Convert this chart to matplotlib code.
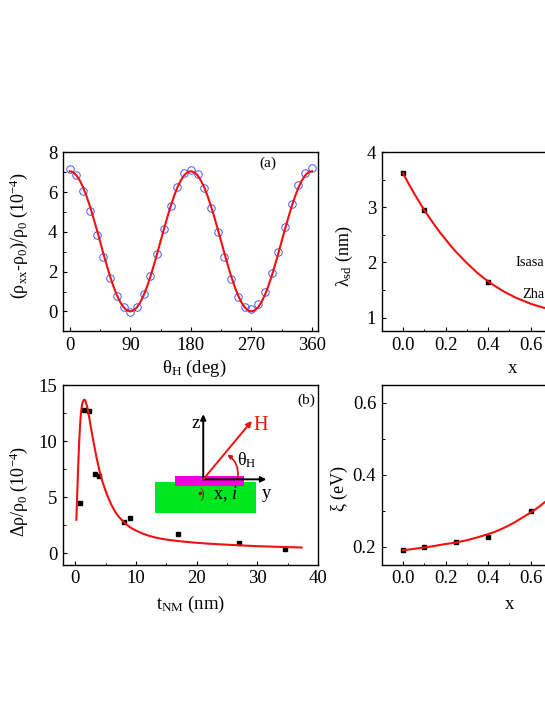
import matplotlib
matplotlib.use('Agg')
import matplotlib.pyplot as plt
from matplotlib.patches import Rectangle, FancyArrowPatch

plt.rcParams['font.family'] = ['Liberation Serif', 'DejaVu Serif']
plt.rcParams['mathtext.fontset'] = 'custom'
plt.rcParams['mathtext.rm'] = 'Liberation Serif'
plt.rcParams['mathtext.it'] = 'Liberation Serif:italic'
plt.rcParams['mathtext.bf'] = 'Liberation Serif:bold'
plt.rcParams['mathtext.default'] = 'rm'

# panel a
theta_pts = [0, 10, 20, 30, 40, 50, 60, 70, 80, 90, 100, 110, 120, 130, 140, 150, 160, 170, 180,
             190, 200, 210, 220, 230, 240, 250, 260, 270, 280, 290, 300, 310, 320, 330, 340, 350, 360]
rho_pts = [7.16, 6.86, 6.07, 5.03, 3.84, 2.75, 1.66, 0.80, 0.20, -0.02, 0.22, 0.86, 1.80, 2.89, 4.16, 5.32, 6.26, 6.95, 7.11,
           6.91, 6.19, 5.20, 4.01, 2.73, 1.61, 0.74, 0.22, 0.12, 0.35, 0.99, 1.93, 3.00, 4.24, 5.42, 6.36, 6.98, 7.21]
theta_fit = [0, 5, 10, 15, 20, 25, 30, 35, 40, 45, 50, 55, 60, 65, 70, 75, 80, 85, 90,
             95, 100, 105, 110, 115, 120, 125, 130, 135, 140, 145, 150, 155, 160, 165, 170, 175, 180,
             185, 190, 195, 200, 205, 210, 215, 220, 225, 230, 235, 240, 245, 250, 255, 260, 265, 270,
             275, 280, 285, 290, 295, 300, 305, 310, 315, 320, 325, 330, 335, 340, 345, 350, 355, 360]
rho_fit = [7.05, 7.00, 6.84, 6.58, 6.23, 5.79, 5.29, 4.73, 4.14, 3.53, 2.91, 2.32, 1.76, 1.26, 0.82, 0.47, 0.21, 0.05, 0.0,
           0.05, 0.21, 0.47, 0.82, 1.26, 1.76, 2.32, 2.91, 3.53, 4.14, 4.73, 5.29, 5.79, 6.23, 6.58, 6.84, 7.00, 7.05,
           7.00, 6.84, 6.58, 6.23, 5.79, 5.29, 4.73, 4.14, 3.53, 2.91, 2.32, 1.76, 1.26, 0.82, 0.47, 0.21, 0.05, 0.0,
           0.05, 0.21, 0.47, 0.82, 1.26, 1.76, 2.32, 2.91, 3.53, 4.14, 4.73, 5.29, 5.79, 6.23, 6.58, 6.84, 7.00, 7.05]

# panel b
t_pts = [0.8, 1.4, 2.2, 3.2, 4, 8, 9, 17, 27, 34.5]
drho_pts = [4.45, 12.8, 12.65, 7.05, 6.9, 2.8, 3.15, 1.75, 0.95, 0.4]
t_fit = [0.2, 0.3, 0.4, 0.5, 0.6, 0.7, 0.8, 0.9, 1.0, 1.15, 1.3, 1.5, 1.65, 1.8, 2.0, 2.2, 2.4, 2.6, 2.8, 3, 3.25, 3.5, 3.75, 4, 4.5, 5, 5.5,
         6, 6.5, 7, 7.5, 8, 8.5, 9, 9.5, 10, 11, 12, 13, 14, 15, 17, 19, 20, 22, 25, 28, 30, 34, 37.3]
drho_fit = [3.0, 4.6, 6.2, 7.7, 9.1, 10.3, 11.3, 12.1, 12.7, 13.3, 13.55, 13.7, 13.65, 13.4, 13.0, 12.5, 11.85, 11.2, 10.6, 10.0, 9.3, 8.6, 8.0, 7.4, 6.4, 5.6, 4.9,
            4.3, 3.8, 3.4, 3.08, 2.8, 2.56, 2.35, 2.18, 2.05, 1.8, 1.6, 1.45, 1.33, 1.24, 1.1, 1.0, 0.95, 0.87, 0.78, 0.7, 0.65, 0.58, 0.53]

# panel c
xc_pts = [0.0, 0.1, 0.4]
lam_pts = [3.62, 2.95, 1.65]
xc_fit = [0.0, 0.025, 0.05, 0.075, 0.1, 0.125, 0.15, 0.175, 0.2, 0.225, 0.25, 0.275, 0.3, 0.325, 0.35,
          0.375, 0.4, 0.425, 0.45, 0.475, 0.5, 0.525, 0.55, 0.575, 0.6, 0.625, 0.65, 0.675, 0.7]
lam_fit = [3.62, 3.44, 3.27, 3.11, 2.95, 2.81, 2.67, 2.54, 2.42, 2.30, 2.19, 2.09, 1.99, 1.90, 1.81,
           1.73, 1.66, 1.59, 1.53, 1.47, 1.42, 1.37, 1.33, 1.29, 1.25, 1.22, 1.19, 1.165, 1.14]

# panel d
xd_pts = [0.0, 0.1, 0.25, 0.4, 0.6]
xi_pts = [0.19, 0.198, 0.212, 0.226, 0.30]
xd_fit = [0.0, 0.025, 0.05, 0.075, 0.1, 0.125, 0.15, 0.175, 0.2, 0.225, 0.25, 0.275, 0.3, 0.325, 0.35,
          0.375, 0.4, 0.425, 0.45, 0.475, 0.5, 0.525, 0.55, 0.575, 0.6, 0.625, 0.65, 0.675, 0.7]
xi_fit = [0.19, 0.192, 0.194, 0.196, 0.198, 0.2, 0.2025, 0.205, 0.2075, 0.2095, 0.212, 0.215, 0.218, 0.222, 0.226,
          0.2305, 0.235, 0.24, 0.246, 0.2525, 0.26, 0.268, 0.277, 0.286, 0.295, 0.305, 0.316, 0.328, 0.34]

W, H = 545, 705
RED = '#f01010'
fig = plt.figure(figsize=(W / 100, H / 100), dpi=100)


def make_ax(left, right, top, bottom):
    return fig.add_axes([left / W, 1 - bottom / H, (right - left) / W, (bottom - top) / H])


def style(ax):
    for s in ax.spines.values():
        s.set_linewidth(1.0)
    ax.tick_params(which='major', direction='in', length=3.2, width=0.8, labelsize=13.5, pad=4)
    ax.tick_params(which='minor', direction='in', length=1.8, width=0.7)


# (a)
ax = make_ax(63, 318, 152.3, 331.3)
ax.plot(theta_pts, rho_pts, 'o', ms=5.4, mfc='none', mec='#4a55f0', mew=0.7)
ax.plot(theta_fit, rho_fit, '-', color=RED, lw=1.5)
ax.set_xlim(-10, 369)
ax.set_ylim(-1, 8)
ax.set_xticks([0, 90, 180, 270, 360])
ax.set_xticks([45, 135, 225, 315], minor=True)
ax.set_yticks([0, 2, 4, 6, 8])
ax.set_yticks([1, 3, 5, 7], minor=True)
ax.set_xlabel(r'$\mathrm{\theta_H}$ (deg)', fontsize=13.5)
ax.xaxis.set_label_coords(0.514, -0.15)
ax.set_ylabel(r'($\mathrm{\rho_{xx}}$-$\mathrm{\rho_0}$)/$\mathrm{\rho_0}$ (10$^{-4}$)', fontsize=13)
ax.yaxis.set_label_coords(-0.13, 0.535)
ax.text(295, 7.45, '(a)', fontsize=11, ha='center', va='center')
style(ax)

# (b)
ax = make_ax(63, 318, 385, 564.7)
ax.plot(t_pts, drho_pts, 's', ms=3.3, color='black')
ax.plot(t_fit, drho_fit, '-', color=RED, lw=1.5)
ax.set_xlim(-2, 40)
ax.set_ylim(-1, 15)
ax.set_xticks([0, 10, 20, 30, 40])
ax.set_xticks([5, 15, 25, 35], minor=True)
ax.set_yticks([0, 5, 10, 15])
ax.set_yticks([2.5, 7.5, 12.5], minor=True)
ax.set_xlabel(r'$\mathrm{t_{NM}}$ (nm)', fontsize=13.5, labelpad=5)
ax.set_ylabel(r'$\Delta\mathrm{\rho}$/$\mathrm{\rho_0}$ (10$^{-4}$)', fontsize=13)
ax.yaxis.set_label_coords(-0.13, 0.407)
ax.text(38, 13.65, '(b)', fontsize=11, ha='center', va='center')
style(ax)

# inset sketch, drawn in axes-b data units
ax.add_patch(Rectangle((13.1, 3.6), 16.7, 2.74, fc='#00e61e', ec='none', zorder=1))
ax.add_patch(Rectangle((16.4, 5.98), 11.4, 0.89, fc='#f000e0', ec='none', zorder=2))
ax.add_patch(FancyArrowPatch((21.1, 6.6), (21.1, 12.4), arrowstyle='-|>', mutation_scale=8, lw=1.4, color='black', shrinkA=0, shrinkB=0, zorder=3))
ax.add_patch(FancyArrowPatch((21.1, 6.6), (31.5, 6.6), arrowstyle='-|>', mutation_scale=8, lw=1.4, color='black', shrinkA=0, shrinkB=0, zorder=3))
ax.add_patch(FancyArrowPatch((21.1, 6.6), (29.1, 11.8), arrowstyle='-|>', mutation_scale=8, lw=1.4, color=RED, shrinkA=0, shrinkB=0, zorder=4))
ax.add_patch(FancyArrowPatch((26.8, 6.8), (25.05, 8.8), arrowstyle='-|>', mutation_scale=6, lw=1.2, color='#d01010',
                             connectionstyle='arc3,rad=0.3', shrinkA=0, shrinkB=0, zorder=4))
ax.plot([20.6], [5.4], 'o', ms=1.5, color='#a01010', zorder=4)
ax.text(19.8, 11.6, 'z', fontsize=13.5, ha='center', va='center')
ax.text(30.6, 11.36, 'H', fontsize=14.5, color=RED, ha='center', va='center')
ax.text(28.3, 8.3, r'$\mathrm{\theta_H}$', fontsize=13, ha='center', va='center')
ax.text(31.6, 5.35, 'y', fontsize=13.5, ha='center', va='center')
ax.text(24.7, 5.27, 'x, $\\mathit{i}$', fontsize=13, ha='center', va='center')
ax.text(20.9, 5.3, ')', fontsize=10, color='#a01010', ha='center', va='center')

# (c)
ax = make_ax(381.7, 637, 152.3, 331.3)
ax.plot(xc_pts, lam_pts, 's', ms=3.5, color='black')
ax.plot(xc_fit, lam_fit, '-', color=RED, lw=1.5)
ax.set_xlim(-0.1, 1.1)
ax.set_ylim(0.75, 4)
ax.set_xticks([0.0, 0.2, 0.4, 0.6, 0.8, 1.0])
ax.set_xticks([0.1, 0.3, 0.5, 0.7, 0.9], minor=True)
ax.set_yticks([1, 2, 3, 4])
ax.set_yticks([1.5, 2.5, 3.5], minor=True)
ax.set_xlabel('x', fontsize=13.5)
ax.xaxis.set_label_coords(0.514, -0.161)
ax.set_ylabel(r'$\mathrm{\lambda_{sd}}$ (nm)', fontsize=13)
ax.yaxis.set_label_coords(-0.105, 0.417)
ax.text(0.527, 2.0, 'Isasa', fontsize=10.3, ha='left', va='center')
ax.text(0.562, 1.42, 'Zha', fontsize=10.3, ha='left', va='center')
style(ax)

# (d)
ax = make_ax(381.7, 637, 385, 564.7)
ax.plot(xd_pts, xi_pts, 's', ms=3.5, color='black')
ax.plot(xd_fit, xi_fit, '-', color=RED, lw=1.5)
ax.set_xlim(-0.1, 1.1)
ax.set_ylim(0.15, 0.65)
ax.set_xticks([0.0, 0.2, 0.4, 0.6, 0.8, 1.0])
ax.set_xticks([0.1, 0.3, 0.5, 0.7, 0.9], minor=True)
ax.set_yticks([0.2, 0.4, 0.6])
ax.set_yticks([0.3, 0.5], minor=True)
ax.set_xlabel('x', fontsize=13.5)
ax.xaxis.set_label_coords(0.499, -0.176)
ax.set_ylabel(r'$\mathrm{\xi}$ (eV)', fontsize=13)
ax.yaxis.set_label_coords(-0.125, 0.424)
style(ax)

fig.savefig('out.png', dpi=100)
